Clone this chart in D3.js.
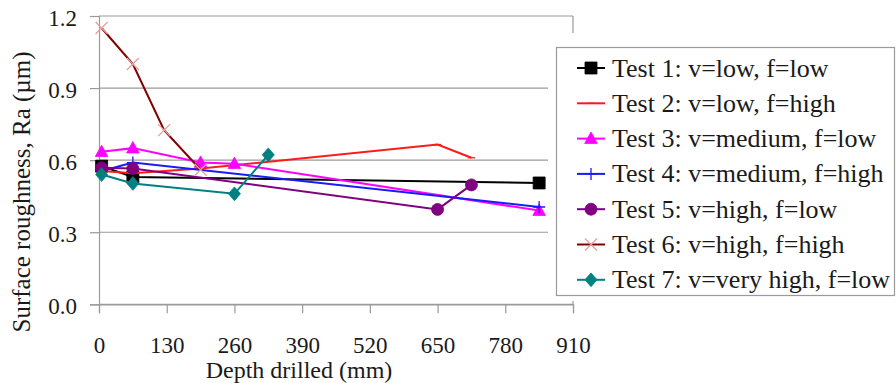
<!DOCTYPE html>
<html>
<head>
<meta charset="utf-8">
<script src="https://cdn.jsdelivr.net/npm/d3@7/dist/d3.min.js"></script>
<style>
  html, body { margin: 0; padding: 0; background: #fff; }
  svg { display: block; }
  svg text { font-family: "Liberation Serif", "Times New Roman", "DejaVu Serif", serif; }
</style>
</head>
<body>
<svg id="chart" width="896" height="383"></svg>
<script>
// Data (depth in mm, Ra in µm)
const seriesNames = [
  "Test 1: v=low, f=low",
  "Test 2: v=low, f=high",
  "Test 3: v=medium, f=low",
  "Test 4: v=medium, f=high",
  "Test 5: v=high, f=low",
  "Test 6: v=high, f=high",
  "Test 7: v=very high, f=low",
];
const test1 = [[5, 0.575], [65, 0.53], [845, 0.505]];
const test2 = [[5, 0.555], [65, 0.545], [195, 0.565], [650, 0.665], [715, 0.61]];
const test3 = [[5, 0.635], [65, 0.65], [195, 0.59], [260, 0.585], [845, 0.39]];
const test4 = [[5, 0.555], [65, 0.59], [845, 0.405]];
const test5 = [[5, 0.568], [65, 0.565], [650, 0.395], [715, 0.497]];
const test6 = [[5, 1.15], [65, 1.0], [125, 0.725], [195, 0.56]];
const test7 = [[5, 0.54], [65, 0.503], [260, 0.46], [325, 0.622]];
const seriesValues = [test1, test2, test3, test4, test5, test6, test7];
const xTicks = [0, 130, 260, 390, 520, 650, 780, 910];
const yTicks = [0.0, 0.3, 0.6, 0.9, 1.2];

const lineColors = ["#000000", "#ff1a1a", "#ff00ff", "#1a1aff", "#800080", "#800000", "#008080"];
const markerColors = ["#000000", "#ff1a1a", "#ff00ff", "#1a1aff", "#800080", "#e8a0a0", "#008080"];
const markerKinds = ["square", "dash", "triangle", "plus", "circle", "cross", "diamond"];

const svg = d3.select("#chart");
const gridColor = "#9a9a9a";
const textColor = "#1a1a1a";
const serif = "'Liberation Serif', 'Times New Roman', 'DejaVu Serif', serif";

const x = d3.scaleLinear().domain([0, 910]).range([99, 573]);
const y = d3.scaleLinear().domain([0, 1.2]).range([304.3, 16]);

// gridlines
svg.append("g")
  .selectAll("line")
  .data(yTicks)
  .join("line")
  .attr("x1", x(0)).attr("x2", x(910))
  .attr("y1", d => y(d)).attr("y2", d => y(d))
  .attr("stroke", gridColor).attr("stroke-width", 1.2);

// plot border, right side
svg.append("line")
  .attr("x1", x(910)).attr("x2", x(910))
  .attr("y1", y(1.2)).attr("y2", y(0))
  .attr("stroke", gridColor).attr("stroke-width", 1.2);

const xAxis = svg.append("g")
  .attr("transform", `translate(0,${y(0)})`)
  .call(d3.axisBottom(x).tickValues(xTicks).tickSize(9).tickPadding(23).tickFormat(d3.format("d")));
const yAxis = svg.append("g")
  .attr("transform", `translate(${x(0)},0)`)
  .call(d3.axisLeft(y).tickValues(yTicks).tickSize(9).tickPadding(13).tickFormat(d3.format(".1f")));

[xAxis, yAxis].forEach(a => {
  a.attr("font-family", serif);
  a.select(".domain").attr("stroke", gridColor).attr("stroke-width", 1.2);
  a.selectAll(".tick line").attr("stroke", gridColor).attr("stroke-width", 1.2);
  a.selectAll("text")
    .attr("fill", textColor)
    .attr("font-size", 23);
});
yAxis.selectAll("text").attr("dy", "0.4em");

// axis titles
svg.append("text")
  .attr("x", 299).attr("y", 378)
  .attr("text-anchor", "middle")
  .attr("font-size", 24)
  .attr("fill", textColor)
  .text("Depth drilled (mm)");

svg.append("text")
  .attr("transform", "translate(30,192) rotate(-90)")
  .attr("text-anchor", "middle")
  .attr("font-size", 25)
  .attr("fill", textColor)
  .text("Surface roughness, Ra (µm)");

function markerPath(kind, r) {
  switch (kind) {
    case "square": return `M${-r},${-r}h${2 * r}v${2 * r}h${-2 * r}Z`;
    case "triangle": return `M0,${-r * 1.1}L${r * 1.05},${r * 0.8}L${-r * 1.05},${r * 0.8}Z`;
    case "diamond": return `M0,${-r * 1.15}L${r * 1.0},0L0,${r * 1.15}L${-r * 1.0},0Z`;
    case "circle": return d3.symbol(d3.symbolCircle, Math.PI * r * r)();
    case "plus": return `M${-r},0H${r}M0,${-r}V${r}`;
    case "cross": return `M${-r},${-r}L${r},${r}M${-r},${r}L${r},${-r}`;
    case "dash": return `M${-r * 0.6},0H${r * 0.6}`;
  }
}
function drawMarker(g, kind, color, cx, cy) {
  const open = kind === "plus" || kind === "cross" || kind === "dash";
  g.append("path")
    .attr("transform", `translate(${cx},${cy})`)
    .attr("d", markerPath(kind, 6))
    .attr("fill", open ? "none" : color)
    .attr("stroke", color)
    .attr("stroke-width", open ? 1.3 : 0.8);
}

const line = d3.line().x(d => x(d[0])).y(d => y(d[1]));

seriesValues.forEach((vals, i) => {
  const g = svg.append("g");
  g.append("path")
    .datum(vals)
    .attr("d", line)
    .attr("fill", "none")
    .attr("stroke", lineColors[i])
    .attr("stroke-width", 2);
  vals.forEach(d => drawMarker(g, markerKinds[i], markerColors[i], x(d[0]), y(d[1])));
});

// legend
const legend = svg.append("g");
legend.append("rect")
  .attr("x", 548).attr("y", 33).attr("width", 348).attr("height", 268)
  .attr("fill", "#fff");
legend.append("rect")
  .attr("x", 556.5).attr("y", 47.5).attr("width", 338).attr("height", 248)
  .attr("fill", "#fff").attr("stroke", gridColor).attr("stroke-width", 1.2);

seriesNames.forEach((name, i) => {
  const ly = 68 + i * 35.3;
  const g = legend.append("g");
  g.append("line")
    .attr("x1", 577).attr("x2", 605).attr("y1", ly).attr("y2", ly)
    .attr("stroke", lineColors[i]).attr("stroke-width", 2);
  drawMarker(g, markerKinds[i], markerColors[i], 591, ly);
  g.append("text")
    .attr("x", 612).attr("y", ly).attr("dy", "0.33em")
    .attr("font-size", 26)
    .attr("fill", textColor)
    .text(name);
});
</script>
</body>
</html>
